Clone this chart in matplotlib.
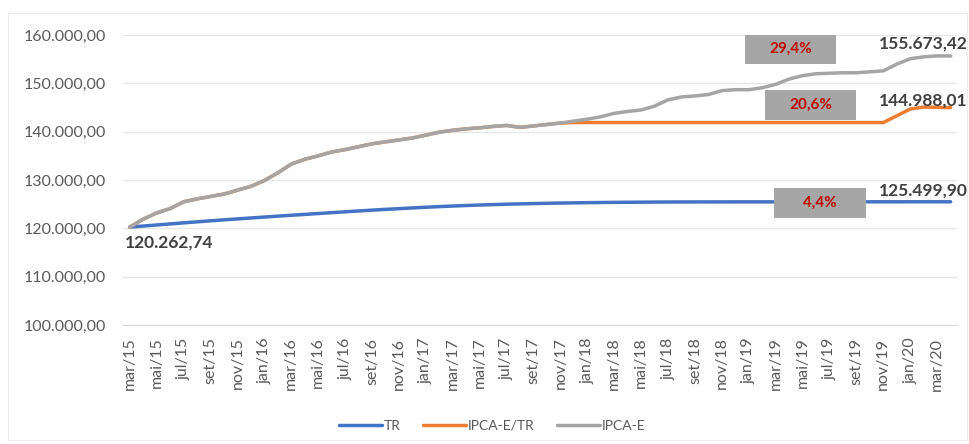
import matplotlib.pyplot as plt
from matplotlib.patches import Rectangle
from matplotlib.ticker import FuncFormatter

# monthly series, mar/15 .. abr/20
meses = ["jan", "fev", "mar", "abr", "mai", "jun", "jul", "ago", "set", "out", "nov", "dez"]
labels = []
for i in range(62):
    m = (2 + i) % 12
    a = 15 + (2 + i) // 12
    labels.append("%s/%d" % (meses[m], a))

tr = [120262.74, 120480, 120700, 120920, 121140, 121350, 121560, 121760, 121960, 122150,
      122340, 122530, 122710, 122890, 123070, 123250, 123430, 123600, 123770, 123930,
      124080, 124230, 124370, 124500, 124620, 124730, 124830, 124920, 125000, 125070,
      125130, 125190, 125240, 125280, 125320, 125350, 125380, 125400, 125420, 125440,
      125455, 125465, 125470, 125475, 125478, 125480, 125482, 125484, 125486, 125488,
      125490, 125491, 125492, 125493, 125494, 125495, 125496, 125497, 125498, 125499,
      125499.5, 125499.90]

ipca_e = [120262.74, 121900, 123200, 124100, 125500, 126100, 126600, 127100, 127900, 128700,
          129900, 131500, 133300, 134300, 135000, 135800, 136300, 136900, 137500, 137900,
          138300, 138700, 139300, 139900, 140300, 140600, 140800, 141100, 141300, 140900,
          141200, 141500, 141800, 142200, 142600, 143100, 143800, 144200, 144500, 145300,
          146600, 147200, 147400, 147700, 148500, 148700, 148700, 149100, 149800, 150900,
          151600, 152000, 152100, 152200, 152200, 152400, 152600, 154000, 155100, 155500,
          155700, 155673.42]

ipca_tr = ipca_e[:33] + [141900] * 24 + [143300, 144700, 145100, 145050, 144988.01]

final_labels = ["125.499,90", "144.988,01", "155.673,42"]
pct_labels = ["4,4%", "20,6%", "29,4%"]

plt.rcParams['font.family'] = ['Lato', 'DejaVu Sans']

fig = plt.figure(figsize=(9.69, 4.44), dpi=100)
ax = fig.add_axes([0.127, 0.268, 0.861, 0.653])

x = list(range(len(labels)))
ax.plot(x, tr, color="#4472c4", lw=2.5, label="TR", solid_capstyle="round")
ax.plot(x, ipca_tr, color="#ed7d31", lw=2.5, label="IPCA-E/TR", solid_capstyle="round")
ax.plot(x, ipca_e, color="#a5a5a5", lw=2.5, label="IPCA-E", solid_capstyle="round")

ax.set_ylim(100000, 160000)
ax.set_xlim(-0.5, 61.5)
ax.set_yticks(range(100000, 160001, 10000))
ax.yaxis.set_major_formatter(FuncFormatter(lambda v, p: "{:,.2f}".format(v).replace(",", "X").replace(".", ",").replace("X", ".")))
ax.set_xticks(x[::2])
ax.set_xticklabels(labels[::2], rotation=90)
ax.tick_params(axis="both", length=0, colors="#595959", labelsize=11.5)
ax.tick_params(axis="y", pad=12)
ax.tick_params(axis="x", pad=9)
ax.grid(axis="y", color="#e6e6e6", lw=0.9)
ax.set_axisbelow(True)
for s in ["top", "right", "left"]:
    ax.spines[s].set_visible(False)
ax.spines["bottom"].set_color("#d9d9d9")

# start / end value labels
ax.text(-0.4, 117100, "120.262,74", fontsize=12.5, fontweight="bold", color="#404040", va="center")
ax.text(55.7, 127900, final_labels[0], fontsize=12.5, fontweight="bold", color="#404040", va="center", clip_on=False)
ax.text(55.7, 146500, final_labels[1], fontsize=12.5, fontweight="bold", color="#404040", va="center", clip_on=False)
ax.text(55.7, 158300, final_labels[2], fontsize=12.5, fontweight="bold", color="#404040", va="center", clip_on=False)

# grey percentage boxes
boxes = [(51.3, 125200), (50.6, 145600), (49.1, 157100)]
for (bx, by), t in zip(boxes, pct_labels):
    ax.add_patch(Rectangle((bx - 3.4, by - 3100), 6.8, 6200, facecolor="#a6a6a6", edgecolor="none", zorder=5))
    ax.text(bx, by, t, fontsize=11, fontweight="bold", color="#c00000", ha="center", va="center", zorder=6)

fig.legend(loc="lower center", bbox_to_anchor=(0.508, 0.0), ncol=3, frameon=False,
           handlelength=3.1, columnspacing=1.6, handletextpad=0.15, fontsize=10, labelcolor="#595959")

fig.patches.append(Rectangle((0.008, 0.01), 0.99, 0.96, transform=fig.transFigure,
                             facecolor="none", edgecolor="#ececec", lw=0.8))

fig.savefig("out.png", dpi=100)
